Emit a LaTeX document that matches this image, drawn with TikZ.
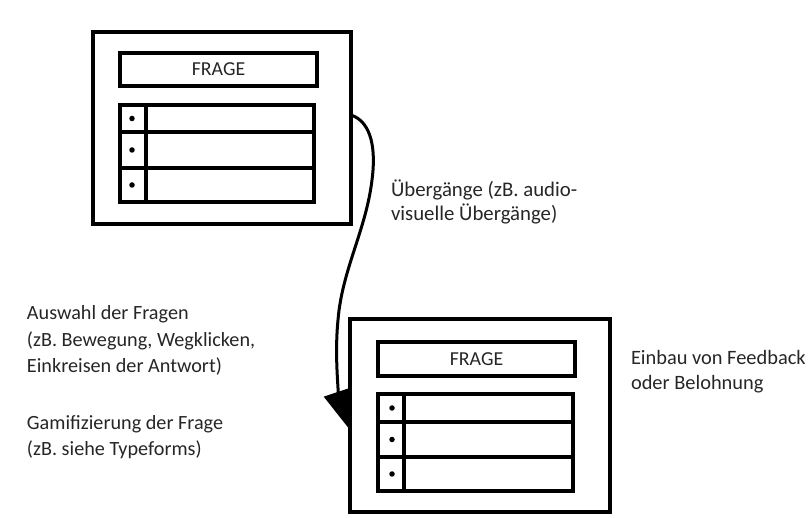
\documentclass[tikz,border=0pt]{standalone}
\usepackage{fontspec}
\setmainfont{Carlito}
\usetikzlibrary{arrows.meta,calc}
\definecolor{txt}{HTML}{262626}
\tikzset{
  frame/.style={draw=black,line width=3.5pt,inner sep=0pt,outer sep=0pt},
  bar/.style={frame,line width=3.2pt,font=\fontsize{19.8}{23}\selectfont,text=txt},
  row/.style={frame,line width=3.2pt},
  label/.style={inner sep=0pt,outer sep=0pt,align=left,anchor=base west,text=txt},
  dot/.style={circle,fill=black,inner sep=0pt,minimum size=5.5pt},
  flow/.style={line width=3pt,-{Triangle[length=40pt,width=28pt]}}
}
\begin{document}
\begin{tikzpicture}[x=1pt,y=-1pt]
\useasboundingbox (0,0) rectangle (809,518);
% first card
\node[frame,minimum width=258pt,minimum height=192pt] (box1) at (222,128) {};
\node[bar,minimum width=197pt,minimum height=33pt] (q1) at (218.5,69.5) {FRAGE};
\node[row,minimum width=194pt,minimum height=27pt] (r11) at (217,118.5) {};
\node[row,minimum width=194pt,minimum height=36pt] (r12) at (217,150) {};
\node[row,minimum width=194pt,minimum height=34pt] (r13) at (217,185) {};
\coordinate (d1t) at (146,105);
\coordinate (d1b) at (146,202);
\draw[line width=3.2pt] (d1t) -- (d1b);
\node[dot] (b11) at (132,118.5) {};
\node[dot] (b12) at (132,150) {};
\node[dot] (b13) at (132,185) {};
% second card
\node[frame,minimum width=260pt,minimum height=193pt] (box2) at (480,415.5) {};
\node[bar,minimum width=197pt,minimum height=34pt] (q2) at (476.5,359) {FRAGE};
\node[row,minimum width=195pt,minimum height=28pt] (r21) at (475.5,408) {};
\node[row,minimum width=195pt,minimum height=35pt] (r22) at (475.5,439.5) {};
\node[row,minimum width=195pt,minimum height=34pt] (r23) at (475.5,474) {};
\coordinate (d2t) at (404,394);
\coordinate (d2b) at (404,491);
\draw[line width=3.2pt] (d2t) -- (d2b);
\node[dot] (b21) at (392,408) {};
\node[dot] (b22) at (392,439.5) {};
\node[dot] (b23) at (392,474) {};
% connector
\coordinate (start) at ($(box1.north east)+(0,83)$);
\coordinate (tip) at ($(box2.north west)+(0,111)$);
\draw[flow] (start) .. controls (372,122) and (376,150) .. (372,180)
  .. controls (366,230) and (342,270) .. (338,320)
  .. controls (334,360) and (340,400) .. (tip);
% labels (anchored at the baseline of the last line)
\node[label,font=\fontsize{20.8}{24}\selectfont] (tr) at (391,221) {Übergänge (zB. audio-\\visuelle Übergänge)};
\node[label,font=\fontsize{20.2}{26.5}\selectfont] (sel) at (27,373) {Auswahl der Fragen\\(zB. Bewegung, Wegklicken,\\Einkreisen der Antwort)};
\node[label,font=\fontsize{20.2}{26}\selectfont] (gam) at (27,456) {Gamifizierung der Frage\\(zB. siehe Typeforms)};
\node[label,font=\fontsize{20.4}{25}\selectfont] (fb) at (631,390) {Einbau von Feedback\\oder Belohnung};
\end{tikzpicture}
\end{document}
